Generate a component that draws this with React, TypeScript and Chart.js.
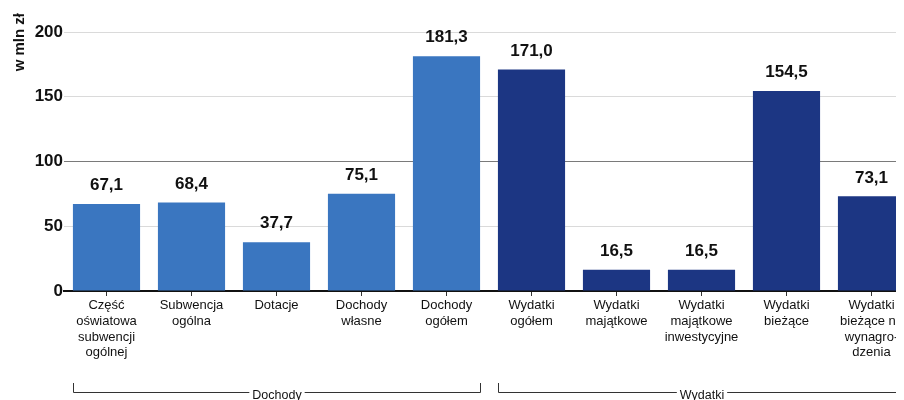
import React, { useEffect, useRef } from "react";
import { Chart, registerables } from "chart.js";

Chart.register(...registerables);

const categories: string[][] = [
  ["Część", "oświatowa", "subwencji", "ogólnej"],
  ["Subwencja", "ogólna"],
  ["Dotacje"],
  ["Dochody", "własne"],
  ["Dochody", "ogółem"],
  ["Wydatki", "ogółem"],
  ["Wydatki", "majątkowe"],
  ["Wydatki", "majątkowe", "inwestycyjne"],
  ["Wydatki", "bieżące"],
  ["Wydatki", "bieżące na", "wynagro-", "dzenia"],
];
const values: number[] = [67.1, 68.4, 37.7, 75.1, 181.3, 171.0, 16.5, 16.5, 154.5, 73.1];
const groups: string[] = ["Dochody", "Dochody", "Dochody", "Dochody", "Dochody", "Wydatki", "Wydatki", "Wydatki", "Wydatki", "Wydatki"];
const groupNames: string[] = ["Dochody", "Wydatki"];
const yTicks: number[] = [0, 50, 100, 150, 200];
const yTitle = "w mln zł";

const groupColors: Record<string, string> = { Dochody: "#3a76c0", Wydatki: "#1c3683" };
const FONT = "'Liberation Sans', Arial, sans-serif";

const extrasPlugin = {
  id: "extras",
  afterDatasetsDraw(chart: any) {
    const ctx = chart.ctx;
    const meta = chart.getDatasetMeta(0);
    ctx.save();
    // value labels
    ctx.font = `bold 17px ${FONT}`;
    ctx.fillStyle = "#111";
    ctx.textAlign = "center";
    ctx.textBaseline = "bottom";
    meta.data.forEach((el: any, i: number) => {
      ctx.fillText(values[i].toFixed(1).replace(".", ","), el.x, el.y - 10);
    });
    // y title
    ctx.save();
    ctx.translate(12, 5);
    ctx.rotate(-Math.PI / 2);
    ctx.font = `bold 15px ${FONT}`;
    ctx.textAlign = "right";
    ctx.textBaseline = "middle";
    ctx.fillText(yTitle, 0, 0);
    ctx.restore();
    // group brackets
    const lineY = 384;
    ctx.strokeStyle = "#333";
    ctx.lineWidth = 1;
    ctx.font = `12.5px ${FONT}`;
    ctx.textBaseline = "middle";
    groupNames.forEach((g) => {
      const idx = groups.map((gg, i) => (gg === g ? i : -1)).filter((i) => i >= 0);
      const first = meta.data[idx[0]];
      const last = meta.data[idx[idx.length - 1]];
      const x0 = Math.round(first.x - first.width / 2) + 0.5;
      const x1 = Math.round(last.x + last.width / 2) + 0.5;
      const mid = (x0 + x1) / 2;
      const tw = ctx.measureText(g).width;
      ctx.beginPath();
      ctx.moveTo(x0, lineY - 9);
      ctx.lineTo(x0, lineY + 0.5);
      ctx.lineTo(mid - tw / 2 - 3, lineY + 0.5);
      ctx.moveTo(mid + tw / 2 + 3, lineY + 0.5);
      ctx.lineTo(x1, lineY + 0.5);
      ctx.lineTo(x1, lineY - 9);
      ctx.stroke();
      ctx.fillStyle = "#111";
      ctx.textAlign = "center";
      ctx.fillText(g, mid, lineY + 4);
    });
    ctx.restore();
  },
};

export default function App() {
  const ref = useRef<HTMLCanvasElement>(null);
  useEffect(() => {
    if (!ref.current) return;
    const chart = new Chart(ref.current, {
      type: "bar",
      data: {
        labels: categories,
        datasets: [
          {
            data: values,
            backgroundColor: groups.map((g) => groupColors[g]),
            barPercentage: 0.79,
            categoryPercentage: 1,
          },
        ],
      },
      options: {
        animation: false,
        responsive: false,
        maintainAspectRatio: false,
        layout: { padding: { top: 24, right: 14, left: 0, bottom: 0 } },
        plugins: { legend: { display: false }, tooltip: { enabled: false } },
        scales: {
          x: {
            grid: {
              display: true,
              drawOnChartArea: false,
              drawTicks: true,
              tickLength: 5,
              offset: false,
              color: "#333",
            },
            border: { display: true, color: "#111", width: 2 },
            ticks: {
              font: { family: FONT, size: 13, lineHeight: 1.2 },
              color: "#111",
              maxRotation: 0,
              autoSkip: false,
              padding: 2,
            },
            afterFit: (s: any) => {
              s.height = 109;
            },
          },
          y: {
            min: 0,
            max: 200,
            afterBuildTicks: (s: any) => {
              s.ticks = yTicks.map((v) => ({ value: v }));
            },
            grid: {
              color: (c: any) => (c.tick && c.tick.value === 100 ? "#7a7a7a" : "#dadada"),
              drawTicks: false,
            },
            border: { display: false },
            ticks: {
              font: { family: FONT, size: 17, weight: "bold" },
              color: "#111",
              padding: 1,
            },
            afterFit: (s: any) => {
              s.width = 56;
            },
          },
        },
      },
      plugins: [extrasPlugin],
    });
    return () => chart.destroy();
  }, []);
  return (
    <div style={{ width: 896, height: 392, overflow: "hidden" }}>
      <canvas ref={ref} width={920} height={392} style={{ display: "block", width: 920, height: 392 }} />
    </div>
  );
}
